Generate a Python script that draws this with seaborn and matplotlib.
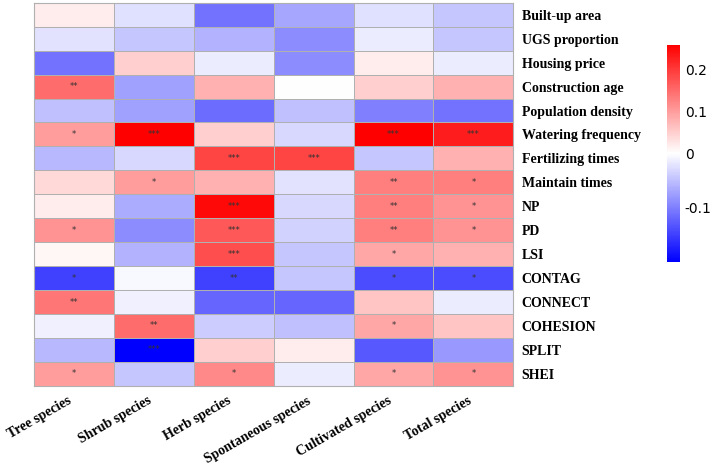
import numpy as np
import pandas as pd
import matplotlib
matplotlib.use('Agg')
import matplotlib.pyplot as plt
from matplotlib.colors import TwoSlopeNorm, LinearSegmentedColormap
import seaborn as sns

rows = ["Built-up area", "UGS proportion", "Housing price", "Construction age",
        "Population density", "Watering frequency", "Fertilizing times", "Maintain times",
        "NP", "PD", "LSI", "CONTAG", "CONNECT", "COHESION", "SPLIT", "SHEI"]
cols = ["Tree species", "Shrub species", "Herb species", "Spontaneous species",
        "Cultivated species", "Total species"]

vals = [
    [0.02, -0.025, -0.11, -0.07, -0.025, -0.045],
    [-0.022, -0.045, -0.06, -0.09, -0.015, -0.045],
    [-0.11, 0.05, -0.015, -0.09, 0.02, -0.015],
    [0.15, -0.075, 0.08, 0.00, 0.05, 0.08],
    [-0.05, -0.075, -0.115, -0.05, -0.10, -0.11],
    [0.10, 0.26, 0.05, -0.03, 0.26, 0.23],
    [-0.055, -0.03, 0.19, 0.19, -0.045, 0.08],
    [0.04, 0.10, 0.08, -0.022, 0.13, 0.13],
    [0.02, -0.065, 0.25, -0.03, 0.13, 0.11],
    [0.11, -0.09, 0.17, -0.035, 0.13, 0.11],
    [0.01, -0.06, 0.18, -0.045, 0.09, 0.08],
    [-0.15, -0.005, -0.15, -0.045, -0.14, -0.14],
    [0.14, -0.012, -0.12, -0.12, 0.06, -0.015],
    [-0.012, 0.15, -0.04, -0.05, 0.09, 0.06],
    [-0.055, -0.20, 0.05, 0.02, -0.13, -0.08],
    [0.10, -0.045, 0.12, -0.015, 0.09, 0.11],
]
stars = [
    ["", "", "", "", "", ""],
    ["", "", "", "", "", ""],
    ["", "", "", "", "", ""],
    ["**", "", "", "", "", ""],
    ["", "", "", "", "", ""],
    ["*", "***", "", "", "***", "***"],
    ["", "", "***", "***", "", ""],
    ["", "*", "", "", "**", "*"],
    ["", "", "***", "", "**", "*"],
    ["*", "", "***", "", "**", "*"],
    ["", "", "***", "", "*", ""],
    ["*", "", "**", "", "*", "*"],
    ["**", "", "", "", "", ""],
    ["", "**", "", "", "*", ""],
    ["", "***", "", "", "", ""],
    ["*", "", "*", "", "*", "*"],
]

df = pd.DataFrame(vals, index=rows, columns=cols)
cmap = LinearSegmentedColormap.from_list("bwr2", ["#0000ff", "#ffffff", "#ff0000"])
norm = TwoSlopeNorm(vmin=-0.2, vcenter=0, vmax=0.26)

fig = plt.figure(figsize=(7.24, 4.66), dpi=100)
ax = fig.add_axes([0.047, 0.172, 0.662, 0.822])
cax = fig.add_axes([0.921, 0.438, 0.018, 0.466])
sns.heatmap(df, ax=ax, cbar_ax=cax, cmap=cmap, norm=norm, annot=np.array(stars), fmt="",
            annot_kws={"fontsize": 6, "color": "#333333"},
            linewidths=0.6, linecolor="#b0b0b0")
ax.yaxis.tick_right()
ax.set_yticklabels(rows, rotation=0, fontsize=10, fontweight="bold", family="Liberation Serif")
ax.set_xticklabels(cols, rotation=30, ha="right", fontsize=10, fontweight="bold",
                   family="Liberation Serif")
ax.tick_params(length=0, pad=6)
for s in ax.spines.values():
    s.set_visible(True)
    s.set_color("#b0b0b0")
cax.set_yticks([-0.1, 0, 0.1, 0.2])
cax.set_yticklabels(["-0.1", "0", "0.1", "0.2"])
cax.tick_params(labelsize=10, length=0)
fig.savefig("out.png", dpi=100)
